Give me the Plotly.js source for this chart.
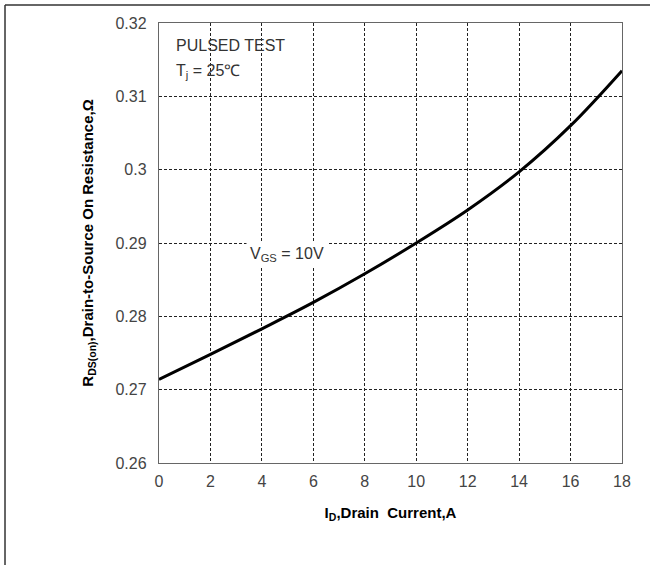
<!DOCTYPE html>
<html>
<head>
<meta charset="utf-8">
<script src="https://cdn.plot.ly/plotly-3.0.1.min.js"></script>
<style>html,body{margin:0;padding:0;background:#fff;}#chart{width:650px;height:565px;}</style>
</head>
<body>
<div id="chart"></div>
<script>
// Data
const drainCurrent = [0, 2, 4, 6, 8, 10, 12, 14, 16, 18];
const rdsOn = [0.2714, 0.2748, 0.2783, 0.2819, 0.2858, 0.2900, 0.2945, 0.2997, 0.3060, 0.3135];
const xTicks = [0, 2, 4, 6, 8, 10, 12, 14, 16, 18];
const yTicks = [0.26, 0.27, 0.28, 0.29, 0.30, 0.31, 0.32];
const yTickLabels = ['0.26', '0.27', '0.28', '0.29', '0.3', '0.31', '0.32'];

const fontFam = '"Liberation Sans", Arial, sans-serif';

const trace = {
  x: drainCurrent,
  y: rdsOn,
  type: 'scatter',
  mode: 'lines',
  line: {color: '#000', width: 3, shape: 'spline'},
  hoverinfo: 'skip'
};

const axisCommon = {
  showgrid: true,
  gridcolor: '#222',
  gridwidth: 1,
  griddash: '3px,2px',
  zeroline: false,
  showline: true,
  linecolor: '#666',
  linewidth: 1.2,
  mirror: true,
  ticks: '',
  tickfont: {family: fontFam, size: 16, color: '#444'}
};

const layout = {
  width: 650,
  height: 565,
  margin: {l: 159, r: 28, t: 23, b: 102},
  paper_bgcolor: '#fff',
  plot_bgcolor: '#fff',
  showlegend: false,
  xaxis: Object.assign({}, axisCommon, {
    range: [0, 18],
    tickvals: xTicks,
    ticktext: xTicks.map(String),
    ticklabelstandoff: 4,
    title: {text: 'I<sub>D</sub>,Drain  Current,A', font: {family: fontFam, size: 15, color: '#000', weight: 'bold'}, standoff: 18}
  }),
  yaxis: Object.assign({}, axisCommon, {
    range: [0.26, 0.32],
    tickvals: yTicks,
    ticktext: yTickLabels,
    ticklabelstandoff: 8,
    title: {text: 'R<sub>DS(on)</sub>,Drain-to-Source On Resistance,Ω', font: {family: fontFam, size: 15, color: '#000', weight: 'bold'}, standoff: 18}
  }),
  shapes: [
    {type: 'rect', xref: 'paper', yref: 'paper', x0: 0.003, x1: 0.305, y0: 0.852, y1: 0.984,
     fillcolor: '#fff', line: {width: 0}, layer: 'between'},
    {type: 'line', xref: 'paper', yref: 'paper', x0: -0.3326, x1: -0.3326, y0: -0.24, y1: 1.041,
     line: {color: '#333', width: 1.5}},
    {type: 'line', xref: 'paper', yref: 'paper', x0: -0.3326, x1: 1.07, y0: 1.041, y1: 1.041,
     line: {color: '#333', width: 1.5}}
  ],
  annotations: [
    {xref: 'paper', yref: 'paper', x: 0.033, y: 0.95, xanchor: 'left', yanchor: 'middle', showarrow: false,
     text: 'PULSED TEST', font: {family: fontFam, size: 16, color: '#333'}},
    {xref: 'paper', yref: 'paper', x: 0.033, y: 0.89, xanchor: 'left', yanchor: 'middle', showarrow: false,
     text: 'T<sub>j</sub> = 25℃', font: {family: fontFam, size: 16, color: '#333'}},
    {xref: 'x', yref: 'y', x: 3.4, y: 0.2884, xanchor: 'left', yanchor: 'middle', showarrow: false,
     text: 'V<sub>GS</sub> = 10V', font: {family: fontFam, size: 16, color: '#333'}, bgcolor: '#fff', borderpad: 3}
  ]
};

Plotly.newPlot('chart', [trace], layout, {displayModeBar: false, staticPlot: true});
</script>
</body>
</html>
